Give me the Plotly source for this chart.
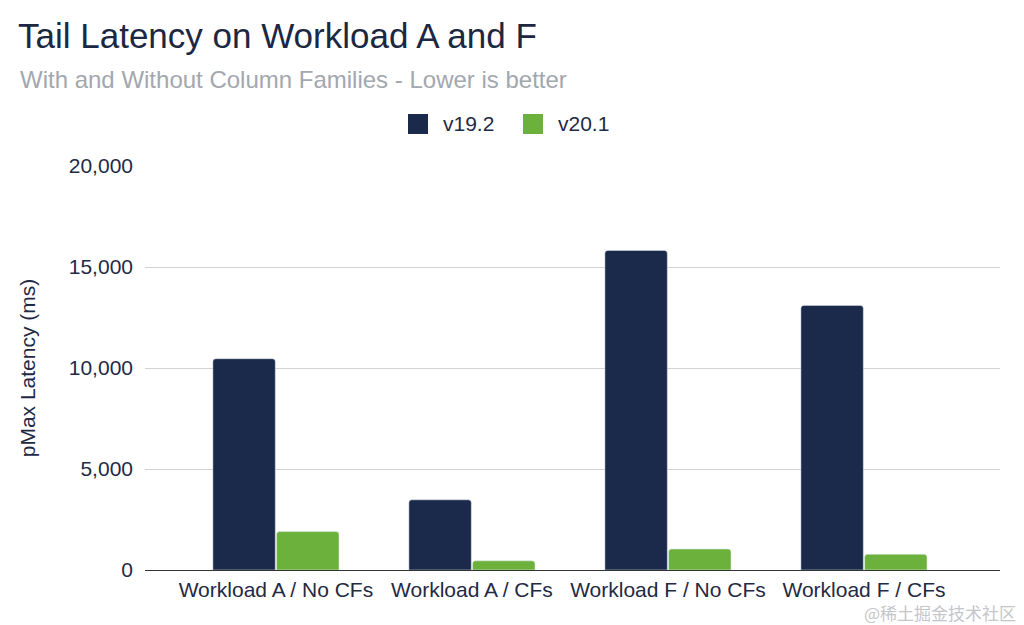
import plotly.graph_objects as go

categories = ["Workload A / No CFs", "Workload A / CFs", "Workload F / No CFs", "Workload F / CFs"]
v19_2 = [10460, 3475, 15820, 13100]
v20_1 = [1900, 455, 1040, 780]
series_names = ["v19.2", "v20.1"]
y_ticks = [0, 5000, 10000, 15000, 20000]
y_tick_labels = ["0", "5,000", "10,000", "15,000", "20,000"]

NAVY = "#1b2a4a"
GREEN = "#6bb13c"
TEXT = "#1f2a44"
FONT = "Arial, Liberation Sans, Helvetica, sans-serif"

W, H = 1024, 625
L, R, T, B = 145, 24, 166, 55
PW, PH = W - L - R, H - T - B


def px(x):
    return (x - L) / PW


def py(y):
    return (H - B - y) / PH


fig = go.Figure()
fig.add_trace(go.Bar(x=categories, y=v19_2, name=series_names[0], marker_color=NAVY, showlegend=False))
fig.add_trace(go.Bar(x=categories, y=v20_1, name=series_names[1], marker_color=GREEN, showlegend=False))

# custom legend (larger square swatches like the reference)
shapes = []
annotations = []
legend_items = [(series_names[0], NAVY, 408), (series_names[1], GREEN, 523)]
for nm, col, x0 in legend_items:
    shapes.append(dict(type="rect", xref="paper", yref="paper",
                       x0=px(x0), x1=px(x0 + 20), y0=py(134), y1=py(114),
                       fillcolor=col, line=dict(width=0)))
    annotations.append(dict(text=nm, xref="paper", yref="paper", x=px(x0 + 33), y=py(124),
                            xanchor="left", yanchor="middle", showarrow=False,
                            font=dict(size=21, color=TEXT, family=FONT)))

annotations += [
    dict(text="With and Without Column Families - Lower is better", xref="paper", yref="paper",
         x=px(18), y=py(79), xanchor="left", yanchor="middle", showarrow=False,
         font=dict(size=24, color="#a3a7ae", family=FONT)),
    dict(text="@稀土掘金技术社区", xref="paper", yref="paper",
         x=px(1018), y=py(612), xanchor="right", yanchor="middle", showarrow=False,
         font=dict(size=17, color="#c4c6ca", family="Noto Sans CJK SC")),
]

fig.update_layout(
    width=W, height=H,
    margin=dict(l=L, r=R, t=T, b=B, pad=0),
    paper_bgcolor="white", plot_bgcolor="white",
    barmode="group", bargap=0.35, bargroupgap=0.02, barcornerradius=3,
    font=dict(family=FONT, size=21, color=TEXT),
    showlegend=False,
    title=dict(text="Tail Latency on Workload A and F", x=18 / W, xanchor="left",
               xref="container", yref="container", y=1 - 36 / H, yanchor="middle",
               font=dict(size=35, color="#1c2742", family=FONT)),
    shapes=shapes,
    annotations=annotations,
)
fig.update_xaxes(range=[-0.668, 3.694], showline=True, linecolor="#333333", linewidth=1.2,
                 showgrid=False, ticks="", tickfont=dict(size=21, color=TEXT),
                 ticklabelstandoff=1)
fig.update_yaxes(range=[0, 20000], tickvals=y_ticks, ticktext=y_tick_labels,
                 showgrid=True, gridcolor="#d3d3d3", gridwidth=1, zeroline=False,
                 tickfont=dict(size=21, color=TEXT), ticklabelstandoff=11,
                 title=dict(text="pMax Latency (ms)", standoff=27, font=dict(size=21, color=TEXT)))

fig.write_html("out.html", config={"displayModeBar": False},
               post_script="document.body.style.margin='0';")
